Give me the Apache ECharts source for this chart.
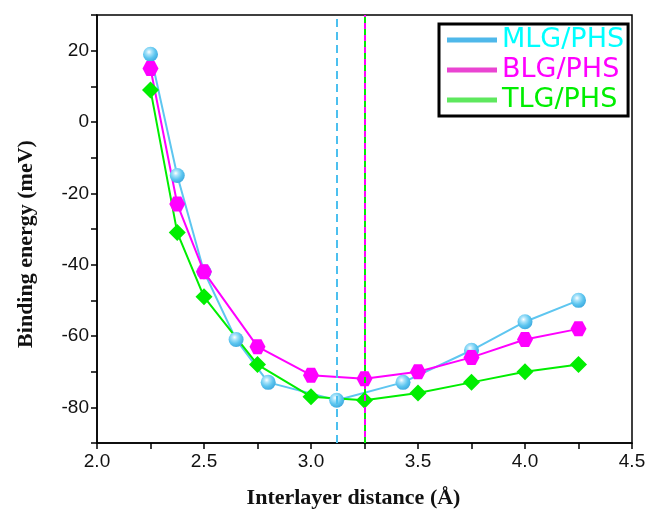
<!DOCTYPE html>
<html>
<head>
<meta charset="utf-8">
<script src="https://cdn.jsdelivr.net/npm/echarts@6/dist/echarts.min.js"></script>
<style>html,body{margin:0;padding:0;background:#fff;}#c{width:649px;height:514px;}</style>
</head>
<body>
<div id="c"></div>
<script>
const seriesNames = ['MLG/PHS', 'BLG/PHS', 'TLG/PHS'];
const mlgX = [2.25, 2.375, 2.5, 2.65, 2.8, 3.12, 3.43, 3.75, 4.0, 4.25];
const mlgY = [19, -15, -42, -61, -73, -78, -73, -64, -56, -50];
const blgX = [2.25, 2.375, 2.5, 2.75, 3.0, 3.25, 3.5, 3.75, 4.0, 4.25];
const blgY = [15, -23, -42, -63, -71, -72, -70, -66, -61, -58];
const tlgX = [2.25, 2.375, 2.5, 2.75, 3.0, 3.25, 3.5, 3.75, 4.0, 4.25];
const tlgY = [9, -31, -49, -68, -77, -78, -76, -73, -70, -68];
const minDistance = [3.12, 3.25, 3.25];

const pair = (xs, ys) => xs.map((x, i) => [x, ys[i]]);
const chart = echarts.init(document.getElementById('c'), null, {renderer: 'canvas'});
const hexagon = 'path://M-1,0 L-0.5,-0.866 L0.5,-0.866 L1,0 L0.5,0.866 L-0.5,0.866 Z';
const sphere = {
  type: 'radial', x: 0.4, y: 0.35, r: 0.7,
  colorStops: [
    {offset: 0, color: '#ffffff'},
    {offset: 0.25, color: '#a9e3fa'},
    {offset: 0.6, color: '#5cc5ef'},
    {offset: 1, color: '#3aa6dc'}
  ]
};
chart.setOption({
  animation: false,
  backgroundColor: '#fff',
  grid: {left: 97, right: 17, top: 15, bottom: 67, show: true, borderColor: '#000', borderWidth: 1.5, backgroundColor: 'transparent'},
  legend: {
    orient: 'vertical', left: 439, top: 24,
    padding: [2, 4, 2, 8], itemGap: 2,
    itemWidth: 50, itemHeight: 5,
    borderColor: '#000', borderWidth: 3,
    backgroundColor: '#fff',
    textStyle: {fontFamily: 'DejaVu Sans', fontSize: 27, lineHeight: 28},
    data: [
      {name: seriesNames[0], icon: 'rect', itemStyle: {color: '#4fb8ea'}, textStyle: {color: '#00ffff'}},
      {name: seriesNames[1], icon: 'rect', itemStyle: {color: '#ea44d2'}, textStyle: {color: '#ff00ff'}},
      {name: seriesNames[2], icon: 'rect', itemStyle: {color: '#5ee85e'}, textStyle: {color: '#00ee00'}}
    ]
  },
  xAxis: {
    type: 'value', min: 2, max: 4.5, interval: 0.25,
    name: 'Interlayer distance (Å)', nameLocation: 'middle', nameGap: 44,
    nameTextStyle: {fontFamily: 'Liberation Serif', fontWeight: 'bold', fontSize: 22, color: '#111', padding: [0, 22, 0, 0]},
    axisLine: {onZero: false, lineStyle: {color: '#000', width: 1.5}},
    axisTick: {length: 6, lineStyle: {color: '#000', width: 1.5}},
    splitLine: {show: false},
    axisLabel: {
      fontFamily: 'Liberation Sans', fontSize: 19, color: '#111', margin: 9,
      showMinLabel: true, showMaxLabel: true,
      formatter: v => Math.abs(v * 2 - Math.round(v * 2)) < 1e-6 ? v.toFixed(1) : ''
    }
  },
  yAxis: {
    type: 'value', min: -90, max: 30, interval: 10,
    name: 'Binding energy (meV)', nameLocation: 'middle', nameGap: 60,
    nameTextStyle: {fontFamily: 'Liberation Serif', fontWeight: 'bold', fontSize: 22, color: '#111', padding: [0, 30, 0, 0]},
    axisLine: {onZero: false, lineStyle: {color: '#000', width: 1.5}},
    axisTick: {length: 6, lineStyle: {color: '#000', width: 1.5}},
    splitLine: {show: false},
    axisLabel: {
      fontFamily: 'Liberation Sans', fontSize: 19, color: '#111', margin: 8,
      formatter: v => (v % 20 === 0 ? String(v) : '')
    }
  },
  series: [
    {
      name: seriesNames[0], type: 'line', data: pair(mlgX, mlgY),
      symbol: 'circle', symbolSize: 15,
      lineStyle: {color: '#5ec6f0', width: 2},
      itemStyle: {color: sphere},
      markLine: {
        silent: true, symbol: 'none', label: {show: false},
        lineStyle: {color: '#4cc0ef', type: [8, 5], width: 2},
        data: [{xAxis: minDistance[0]}]
      }
    },
    {
      name: seriesNames[1], type: 'line', data: pair(blgX, blgY),
      symbol: hexagon, symbolSize: [16, 15],
      lineStyle: {color: '#ff00ff', width: 2},
      itemStyle: {color: '#ff00ff'},
      markLine: {
        silent: true, symbol: 'none', label: {show: false},
        lineStyle: {color: '#ff00ff', type: 'solid', width: 2},
        data: [{xAxis: minDistance[1]}]
      }
    },
    {
      name: seriesNames[2], type: 'line', data: pair(tlgX, tlgY),
      symbol: 'diamond', symbolSize: 17,
      lineStyle: {color: '#00ee00', width: 2},
      itemStyle: {color: '#00ee00'},
      markLine: {
        silent: true, symbol: 'none', label: {show: false},
        lineStyle: {color: '#00ee00', type: [6, 6], width: 2},
        data: [{xAxis: minDistance[2]}]
      }
    }
  ]
});
</script>
</body>
</html>
